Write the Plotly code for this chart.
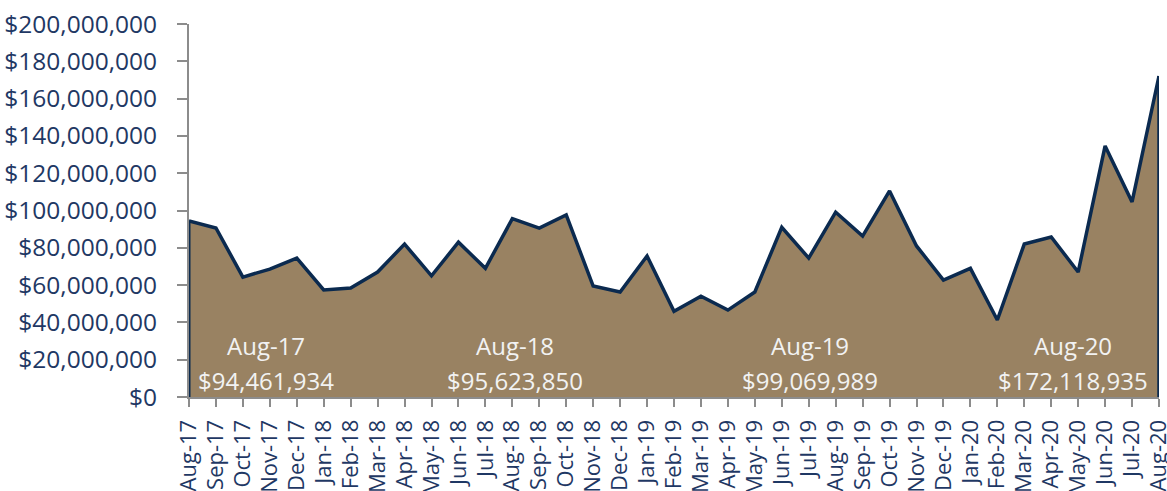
import plotly.graph_objects as go

months = ["Aug-17","Sep-17","Oct-17","Nov-17","Dec-17","Jan-18","Feb-18","Mar-18","Apr-18","May-18",
          "Jun-18","Jul-18","Aug-18","Sep-18","Oct-18","Nov-18","Dec-18","Jan-19","Feb-19","Mar-19",
          "Apr-19","May-19","Jun-19","Jul-19","Aug-19","Sep-19","Oct-19","Nov-19","Dec-19","Jan-20",
          "Feb-20","Mar-20","Apr-20","May-20","Jun-20","Jul-20","Aug-20"]
values = [94461934, 90600000, 64300000, 68600000, 74500000, 57400000, 58400000, 67000000, 82000000, 65000000,
          83000000, 69000000, 95623850, 90600000, 97600000, 59500000, 56300000, 75600000, 46000000, 54000000,
          46600000, 56300000, 91000000, 74500000, 99069989, 86300000, 110500000, 81000000, 62700000, 69000000,
          41300000, 82000000, 85800000, 67000000, 134600000, 104600000, 172118935]

callout_months = ["Aug-17", "Aug-18", "Aug-19", "Aug-20"]
callout_values = [94461934, 95623850, 99069989, 172118935]
callout_x = [2.86, 12.1, 23.05, 32.8]

NAVY = "#0B2A4F"
FILL = "#998262"
TXT = "#1F3864"
GREY = "#8C8C8C"

fig = go.Figure()
fig.add_trace(go.Scatter(x=list(range(len(months))), y=values, mode="lines", fill="tozeroy",
                         fillcolor=FILL, line=dict(color=NAVY, width=3.5), hoverinfo="skip",
                         cliponaxis=False))
last = len(months) - 1
fig.add_trace(go.Scatter(x=[last, last], y=[0, values[-1]], mode="lines",
                         line=dict(color=NAVY, width=3.5), hoverinfo="skip", cliponaxis=False))
fig.add_trace(go.Scatter(x=[0, 0], y=[0, values[0]], mode="lines",
                         line=dict(color=NAVY, width=3), hoverinfo="skip", cliponaxis=True))

for m, v, xp in zip(callout_months, callout_values, callout_x):
    fig.add_annotation(x=xp, y=0.139, xref="x", yref="paper", yanchor="middle", text=m, showarrow=False,
                       font=dict(family="Open Sans", size=24, color="#F2F2F2"))
    fig.add_annotation(x=xp, y=0.043, xref="x", yref="paper", yanchor="middle", text=f"${v:,}", showarrow=False,
                       font=dict(family="Open Sans", size=24, color="#F2F2F2"))

fig.update_layout(
    width=1167, height=491, showlegend=False,
    margin=dict(l=189, r=8, t=24, b=94),
    plot_bgcolor="white", paper_bgcolor="white",
    font=dict(family="Open Sans", color=TXT),
    xaxis=dict(range=[0, last], tickmode="array", tickvals=list(range(len(months))), ticktext=months,
               tickangle=-90, tickfont=dict(size=22, color=TXT), showgrid=False, zeroline=False,
               showline=True, linecolor=GREY, linewidth=2, ticklabeloverflow="allow",
               ticks="outside", ticklen=8, tickcolor=GREY, tickwidth=2, automargin=False,
               ticklabelstandoff=4),
    yaxis=dict(range=[0, 200000000], tickmode="linear", tick0=0, dtick=20000000,
               tickprefix="$", tickformat=",.0f", tickfont=dict(size=24.5, color=TXT),
               showgrid=False, zeroline=False, showline=True, linecolor=GREY, linewidth=2,
               ticks="outside", ticklen=10, tickcolor=GREY, tickwidth=2, automargin=False,
               ticklabelstandoff=15),
)
fig.write_html("out.html", config={"displayModeBar": False},
               post_script="document.body.style.margin='0';document.body.style.overflow='hidden';")
